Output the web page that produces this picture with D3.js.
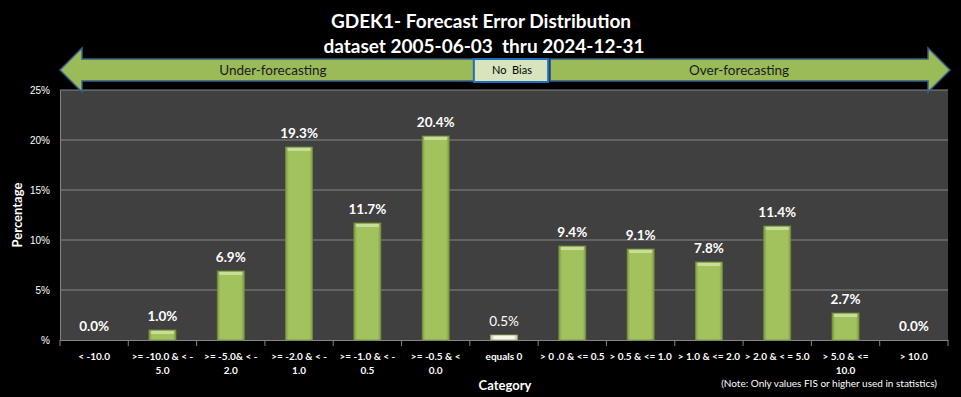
<!DOCTYPE html>
<html>
<head>
<meta charset="utf-8">
<script src="https://cdn.jsdelivr.net/npm/d3@7"></script>
<style>
  body { margin: 0; background: #000; }
  svg { display: block; font-family: Lato, "Open Sans", sans-serif; }
</style>
</head>
<body>
<div id="chart"></div>
<script>
// categories (each split into the two lines shown under the axis)
var categories = ["< -10.0", ">= -10.0 & < - 5.0", ">= -5.0& < - 2.0", ">= -2.0 & < - 1.0",
    ">= -1.0 & < - 0.5", ">= -0.5 & < 0.0", "equals 0", "> 0 .0 & <= 0.5", "> 0.5 & <= 1.0",
    "> 1.0 & <= 2.0", "> 2.0 & < = 5.0", "> 5.0 & <= 10.0", "> 10.0"];
var labelLines = [["< -10.0"], [">= -10.0 & < -", "5.0"], [">= -5.0& < -", "2.0"], [">= -2.0 & < -", "1.0"],
    [">= -1.0 & < -", "0.5"], [">= -0.5 & <", "0.0"], ["equals 0"], ["> 0 .0 & <= 0.5"], ["> 0.5 & <= 1.0"],
    ["> 1.0 & <= 2.0"], ["> 2.0 & < = 5.0"], ["> 5.0 & <=", "10.0"], ["> 10.0"]];
var percents = [0.0, 1.0, 6.9, 19.3, 11.7, 20.4, 0.5, 9.4, 9.1, 7.8, 11.4, 2.7, 0.0];
var yTicks = [0, 5, 10, 15, 20, 25];

var W = 961, H = 397;
var margin = {top: 90, right: 13, bottom: 57, left: 60},
    width = W - margin.left - margin.right,
    height = H - margin.top - margin.bottom;

var svg = d3.select("#chart").append("svg")
    .attr("width", W).attr("height", H);

svg.append("rect").attr("width", W).attr("height", H).attr("fill", "#000");

// gradients for the bars
var defs = svg.append("defs");
var grad = defs.append("linearGradient").attr("id", "barGrad")
    .attr("x1", "0%").attr("x2", "100%").attr("y1", "0%").attr("y2", "0%");
grad.append("stop").attr("offset", "0%").attr("stop-color", "#7f9c45");
grad.append("stop").attr("offset", "12%").attr("stop-color", "#a2c25e");
grad.append("stop").attr("offset", "88%").attr("stop-color", "#a2c25e");
grad.append("stop").attr("offset", "100%").attr("stop-color", "#7f9c45");
var grad2 = defs.append("linearGradient").attr("id", "zeroGrad")
    .attr("x1", "0%").attr("x2", "100%");
grad2.append("stop").attr("offset", "0%").attr("stop-color", "#b8c99a");
grad2.append("stop").attr("offset", "15%").attr("stop-color", "#f4f8ec");
grad2.append("stop").attr("offset", "85%").attr("stop-color", "#f4f8ec");
grad2.append("stop").attr("offset", "100%").attr("stop-color", "#b8c99a");

// title
svg.append("text").attr("x", 481).attr("y", 28).attr("text-anchor", "middle")
    .attr("fill", "#fff").attr("font-size", 19).attr("font-weight", "bold")
    .text("GDEK1- Forecast Error Distribution");
svg.append("text").attr("x", 484).attr("y", 53).attr("text-anchor", "middle")
    .attr("fill", "#fff").attr("font-size", 19).attr("font-weight", "bold")
    .attr("xml:space", "preserve").style("white-space", "pre")
    .text("dataset 2005-06-03  thru 2024-12-31");

var g = svg.append("g").attr("transform", "translate(" + margin.left + "," + margin.top + ")");

var x = d3.scaleBand().domain(categories).range([0, width]).paddingInner(0).paddingOuter(0);
var y = d3.scaleLinear().domain([0, 25]).range([height, 0]);

// plot area
g.append("rect").attr("width", width).attr("height", height).attr("fill", "#404040");

// gridlines
g.selectAll(".grid").data(yTicks.slice(1)).enter().append("line")
    .attr("x1", 0).attr("x2", width)
    .attr("y1", function(d) { return y(d); }).attr("y2", function(d) { return y(d); })
    .attr("stroke", "#868686").attr("stroke-width", 1.2);

// y axis
var yAxis = g.append("g")
    .call(d3.axisLeft(y).tickValues(yTicks).tickSize(0).tickPadding(10)
        .tickFormat(function(d) { return d === 0 ? "%" : d + "%"; }));
yAxis.select(".domain").attr("stroke", "#868686");
yAxis.selectAll("text").attr("fill", "#fff").attr("font-size", 10);

// x axis
var xAxis = g.append("g").attr("transform", "translate(0," + height + ")")
    .call(d3.axisBottom(x).tickSize(0).tickFormat(""));
xAxis.select(".domain").attr("stroke", "#868686").attr("stroke-width", 1.2);
// tick marks on category boundaries
xAxis.selectAll(".bound").data(categories.concat(["end"])).enter().append("line")
    .attr("x1", function(d, i) { return i * x.bandwidth(); })
    .attr("x2", function(d, i) { return i * x.bandwidth(); })
    .attr("y1", 0).attr("y2", 6).attr("stroke", "#868686");

// x tick labels
var lab = g.selectAll(".xlab").data(categories).enter().append("text")
    .attr("x", function(d) { return x(d) + x.bandwidth() / 2; })
    .attr("y", height + 20)
    .attr("text-anchor", "middle").attr("fill", "#fff")
    .attr("font-size", 10).attr("font-weight", "bold");
lab.each(function(d, i) {
    var t = d3.select(this);
    labelLines[i].forEach(function(s, j) {
        t.append("tspan").attr("x", x(d) + x.bandwidth() / 2).attr("dy", j === 0 ? 0 : 14).text(s);
    });
});

// bars
var bw = 27;
function barX(i) { return x(categories[i]) + x.bandwidth() / 2 - bw / 2; }
g.selectAll(".bar").data(percents).enter().append("rect")
    .attr("x", function(d, i) { return barX(i); })
    .attr("y", function(d) { return y(d); })
    .attr("width", bw)
    .attr("height", function(d) { return height - y(d); })
    .attr("fill", function(d, i) { return i === 6 ? "url(#zeroGrad)" : "url(#barGrad)"; })
    .attr("stroke", function(d, i) { return i === 6 ? "#8ea665" : "#718c3d"; })
    .attr("stroke-width", function(d) { return d > 0 ? 0.8 : 0; });
// top bevel highlight
g.selectAll(".bevel").data(percents).enter().append("rect")
    .attr("x", function(d, i) { return barX(i) + 2; })
    .attr("y", function(d) { return y(d) + 1; })
    .attr("width", bw - 4)
    .attr("height", function(d, i) { return d > 0.6 && i !== 6 ? 3 : 0; })
    .attr("fill", "#c9dd9a");

// value labels
g.selectAll(".val").data(percents).enter().append("text")
    .attr("x", function(d, i) { return x(categories[i]) + x.bandwidth() / 2; })
    .attr("y", function(d) { return y(d) - 9; })
    .attr("text-anchor", "middle").attr("fill", "#fff")
    .attr("font-size", 13.5)
    .attr("font-weight", function(d, i) { return i === 6 ? "normal" : "bold"; })
    .text(function(d) { return d.toFixed(1) + "%"; });

// axis titles
svg.append("text").attr("transform", "translate(22," + (margin.top + height / 2) + ") rotate(-90)")
    .attr("text-anchor", "middle").attr("fill", "#fff").attr("font-size", 13).attr("font-weight", "bold")
    .text("Percentage");
svg.append("text").attr("x", 505).attr("y", 390).attr("text-anchor", "middle")
    .attr("fill", "#fff").attr("font-size", 13).attr("font-weight", "bold").text("Category");
svg.append("text").attr("x", 937).attr("y", 387).attr("text-anchor", "end")
    .attr("fill", "#fff").attr("font-size", 10)
    .text("(Note: Only values FIS or higher used in statistics)");

// bias arrows
var zeroX = margin.left + x("equals 0");
var leftTip = margin.left, headW = 22, shaftTop = 59, shaftBot = 81, headTop = 48, headBot = 92, midY = 70;
var leftEnd = zeroX + 4;
svg.append("path")
    .attr("d", "M" + leftTip + "," + midY + " L" + (leftTip + headW) + "," + headTop +
        " L" + (leftTip + headW) + "," + shaftTop + " L" + leftEnd + "," + shaftTop +
        " L" + leftEnd + "," + shaftBot + " L" + (leftTip + headW) + "," + shaftBot +
        " L" + (leftTip + headW) + "," + headBot + " Z")
    .attr("fill", "#9bbb59").attr("stroke", "#385d8a").attr("stroke-width", 1.5);
var rightStart = zeroX + x.bandwidth() + 12, rightTip = 950;
svg.append("path")
    .attr("d", "M" + rightTip + "," + midY + " L" + (rightTip - headW) + "," + headTop +
        " L" + (rightTip - headW) + "," + shaftTop + " L" + rightStart + "," + shaftTop +
        " L" + rightStart + "," + shaftBot + " L" + (rightTip - headW) + "," + shaftBot +
        " L" + (rightTip - headW) + "," + headBot + " Z")
    .attr("fill", "#9bbb59").attr("stroke", "#385d8a").attr("stroke-width", 1.5);
svg.append("rect").attr("x", leftEnd).attr("y", shaftTop).attr("width", rightStart - leftEnd - 2)
    .attr("height", shaftBot - shaftTop + 1)
    .attr("fill", "#d7e4bd").attr("stroke", "#1f6fbf").attr("stroke-width", 2);
svg.append("text").attr("x", (leftEnd + rightStart) / 2).attr("y", 74).attr("text-anchor", "middle")
    .attr("fill", "#000").attr("font-size", 11).style("white-space", "pre").text("No  Bias");
svg.append("text").attr("x", (leftTip + headW + leftEnd) / 2 - 5).attr("y", 75).attr("text-anchor", "middle")
    .attr("fill", "#1a1a1a").attr("font-size", 13.5).text("Under-forecasting");
svg.append("text").attr("x", (rightStart + rightTip - headW) / 2).attr("y", 75).attr("text-anchor", "middle")
    .attr("fill", "#1a1a1a").attr("font-size", 13.5).text("Over-forecasting");
</script>
</body>
</html>
